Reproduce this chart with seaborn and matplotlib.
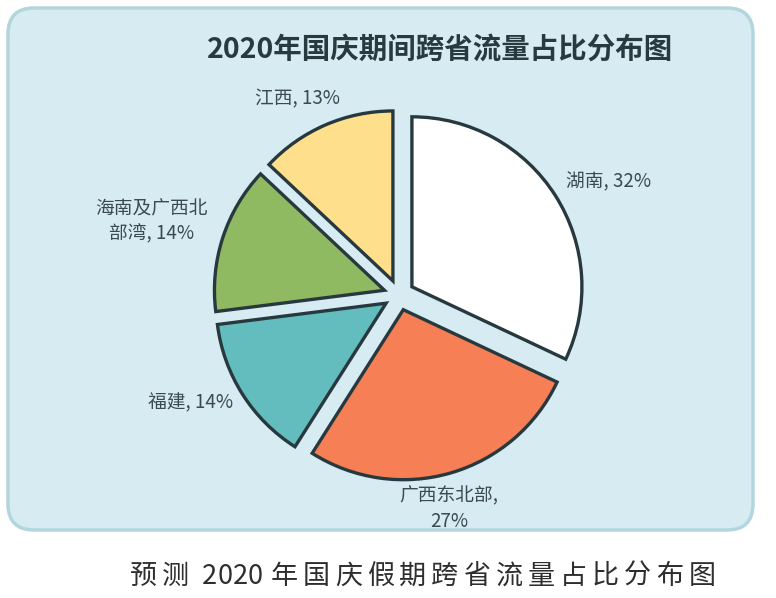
import matplotlib
matplotlib.use("Agg")
import matplotlib.pyplot as plt
import numpy as np
import seaborn as sns
from matplotlib.patches import FancyBboxPatch

# ---- data ----
categories = ["湖南", "广西东北部", "福建", "海南及广西北\n部湾", "江西"]
label_names = ["湖南, 32%", "广西东北部,\n27%", "福建, 14%", "海南及广西北\n部湾, 14%", "江西, 13%"]
shares = [32, 27, 14, 14, 13]
colors = ["#ffffff", "#f77f55", "#63bdbf", "#8fba62", "#fedf8c"]
label_dist = [1.40, 1.29, 1.38, 1.52, 1.30]
label_shift = [-4, -3, -5, 1.5, 4]
title = "2020年国庆期间跨省流量占比分布图"
caption = "预测 2020 年国庆假期跨省流量占比分布图"

sns.set_theme(style="white")
plt.rcParams['font.family'] = ['Noto Sans CJK SC', 'DejaVu Sans']

W, H = 776, 598
fig = plt.figure(figsize=(W / 100, H / 100), dpi=100)
fig.patch.set_facecolor("white")

# background axes in pixel coords
bg = fig.add_axes([0, 0, 1, 1])
bg.set_xlim(0, W)
bg.set_ylim(H, 0)
bg.axis("off")
panel = FancyBboxPatch((8, 8), 745, 522, boxstyle="round,pad=0,rounding_size=26",
                       facecolor="#d7ebf2", edgecolor="#b3d6de", linewidth=2.5)
bg.add_patch(panel)
bg.text(440, 50, title, ha="center", va="center", fontsize=20.5, fontweight="heavy",
        color="#263a40")

# caption with letter spacing
renderer = fig.canvas.get_renderer()
x = 130
for ch in caption:
    if ch == " ":
        x += 8
        continue
    t = bg.text(x, 576, ch, ha="left", va="center", fontsize=19.5, color="#2e2e2e",
                fontweight="light")
    bb = t.get_window_extent(renderer=renderer)
    x += bb.width + (0 if ch.isdigit() else 5)

# pie axes: centre at (399,295) px, radius 171 px
cx, cy, R = 399, 295, 170
ax = fig.add_axes([0, 0, 1, 1])
ax.patch.set_alpha(0)
wedges, _ = ax.pie(shares, colors=colors, startangle=90, counterclock=False,
                   explode=[0.09] * len(shares),
                   wedgeprops=dict(edgecolor="#27393e", linewidth=2.4))
ax.set_xlim(-cx / R, (W - cx) / R)
ax.set_ylim(-(H - cy) / R, cy / R)
ax.set_aspect("auto")
ax.axis("off")

for w, lab, d, s in zip(wedges, label_names, label_dist, label_shift):
    ang = np.deg2rad((w.theta1 + w.theta2) / 2 + s)
    ax.text(d * np.cos(ang), d * np.sin(ang), lab, ha="center", va="center",
            fontsize=13.5, color="#3a4a50", linespacing=1.25)

fig.savefig("out.png", dpi=100)
